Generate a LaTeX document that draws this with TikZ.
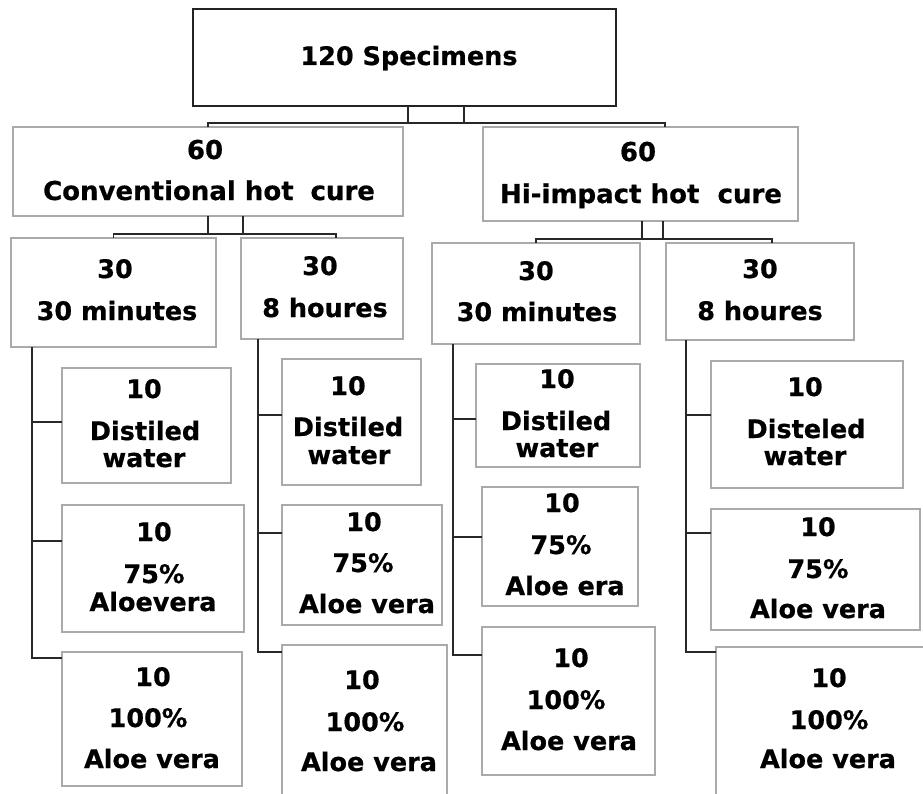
\documentclass[tikz,border=0pt]{standalone}
\usepackage{fontspec}
\setmainfont{DejaVu Sans}[BoldFeatures={FakeBold=0.6}]
\begin{document}
\begin{tikzpicture}[x=1bp,y=-1bp,
  box/.style={draw={rgb,255:red,170;green,170;blue,170}, line width=1.7bp, rectangle, inner sep=0pt, outer sep=0pt, fill=white},
  topbox/.style={draw={rgb,255:red,35;green,35;blue,35}, line width=2.8bp, rectangle, inner sep=0pt, outer sep=0pt, fill=white},
  conn/.style={draw={rgb,255:red,40;green,40;blue,40}, line width=1.7bp},
  txt/.style={anchor=base, inner sep=0pt, font=\fontsize{25.5bp}{30bp}\selectfont\bfseries},
  bigtxt/.style={txt, font=\fontsize{26bp}{30bp}\selectfont\bfseries}]
\newcommand\bx[6]{\node[#2, minimum width={(#5-#3)*1bp}, minimum height={(#6-#4)*1bp}] (#1) at ({(#3+#5)/2},{(#4+#6)/2}) {};}
\newcommand\tl[4]{\node[txt] (#1) at (#2,#3) {#4};}
\newcommand\tb[4]{\node[bigtxt] (#1) at (#2,#3) {#4};}
\useasboundingbox (0,0) rectangle (923,794);
\clip (0,0) rectangle (923,794);
\fill[white] (0,0) rectangle (923,794);
% boxes
\bx{top}{topbox}{193}{9}{616}{106}
\bx{LL}{box}{13}{127}{403}{216}
\bx{LR}{box}{483}{127}{798}{221}
\bx{A}{box}{11}{238}{216}{347}
\bx{B}{box}{241}{238}{403}{339}
\bx{C}{box}{432}{243}{640}{344}
\bx{D}{box}{666}{243}{854}{340}
\bx{A1}{box}{62}{368}{231}{483}
\bx{B1}{box}{282}{359}{421}{485}
\bx{C1}{box}{476}{364}{640}{467}
\bx{D1}{box}{711}{361}{903}{488}
\bx{A2}{box}{62}{505}{244}{632}
\bx{B2}{box}{282}{505}{442}{625}
\bx{C2}{box}{482}{487}{638}{606}
\bx{D2}{box}{711}{509}{920}{630}
\bx{A3}{box}{62}{652}{242}{786}
\bx{B3}{box}{282}{645}{447}{805}
\bx{C3}{box}{482}{627}{655}{775}
\bx{D3}{box}{716}{647}{935}{805}
% connectors top -> level 1
\draw[conn] (408,0 |- top.south) -- (408,123) -- (464,123) -- (464,0 |- top.south);
\draw[conn] (LL.north) -- (208,123) -- (665,123) -- (665,0 |- LR.north);
% level 1 -> level 2
\draw[conn] (LL.south) -- (208,234) -- (243,234) -- (243,0 |- LL.south);
\draw[conn] (A.north) -- (113.5,234) -- (336,234) -- (336,0 |- B.north);
\draw[conn] (642,0 |- LR.south) -- (642,239) -- (663,239) -- (663,0 |- LR.south);
\draw[conn] (C.north) -- (536,239) -- (772,239) -- (772,0 |- D.north);
% trunks
\draw[conn] (32,0 |- A.south) |- (A3.west |- 0,658);
\draw[conn] (32,422) -- (A1.west |- 0,422);
\draw[conn] (32,541) -- (A2.west |- 0,541);
\draw[conn] (258,0 |- B.south) |- (B3.west |- 0,652);
\draw[conn] (258,415) -- (B1.west |- 0,415);
\draw[conn] (258,533) -- (B2.west |- 0,533);
\draw[conn] (453,0 |- C.south) |- (C3.west |- 0,655);
\draw[conn] (453,419) -- (C1.west |- 0,419);
\draw[conn] (453,537) -- (C2.west |- 0,537);
\draw[conn] (686,0 |- D.south) |- (D3.west |- 0,652);
\draw[conn] (686,415) -- (D1.west |- 0,415);
\draw[conn] (686,533) -- (D2.west |- 0,533);
% texts
\tl{t0}{409}{65}{120 Specimens}
\tb{tLa}{205}{159}{60}
\tb{tLb}{209}{200}{Conventional hot\hspace{0.3em} cure}
\tb{tRa}{638}{161}{60}
\tb{tRb}{641}{203}{Hi-impact hot\hspace{0.35em} cure}
\tl{tAa}{115}{278}{30}
\tl{tAb}{117}{320}{30 minutes}
\tl{tBa}{320}{275}{30}
\tl{tBb}{325}{317}{8 houres}
\tl{tCa}{536}{280}{30}
\tl{tCb}{537}{321}{30 minutes}
\tl{tDa}{760}{278}{30}
\tl{tDb}{760}{320}{8 houres}
\tl{tA1a}{144}{398}{10}
\tl{tA1b}{145}{440}{Distiled}
\tl{tA1c}{144}{467}{water}
\tl{tB1a}{348}{395}{10}
\tl{tB1b}{348}{436}{Distiled}
\tl{tB1c}{349}{464}{water}
\tl{tC1a}{557}{388}{10}
\tl{tC1b}{556}{430}{Distiled}
\tl{tC1c}{557}{457}{water}
\tl{tD1a}{805}{396}{10}
\tl{tD1b}{806}{438}{Disteled}
\tl{tD1c}{805}{465}{water}
\tl{tA2a}{154}{541}{10}
\tl{tA2b}{154}{583}{75\%}
\tl{tA2c}{153}{611}{Aloevera}
\tl{tB2a}{364}{531}{10}
\tl{tB2b}{363}{572}{75\%}
\tl{tB2c}{367}{613}{Aloe vera}
\tl{tC2a}{562}{512}{10}
\tl{tC2b}{561}{554}{75\%}
\tl{tC2c}{565}{595}{Aloe era}
\tl{tD2a}{818}{536}{10}
\tl{tD2b}{818}{578}{75\%}
\tl{tD2c}{818}{618}{Aloe vera}
\tl{tA3a}{153}{686}{10}
\tl{tA3b}{148}{727}{100\%}
\tl{tA3c}{152}{768}{Aloe vera}
\tl{tB3a}{362}{689}{10}
\tl{tB3b}{365}{731}{100\%}
\tl{tB3c}{369}{771}{Aloe vera}
\tl{tC3a}{571}{667}{10}
\tl{tC3b}{566}{709}{100\%}
\tl{tC3c}{569}{750}{Aloe vera}
\tl{tD3a}{829}{687}{10}
\tl{tD3b}{829}{729}{100\%}
\tl{tD3c}{828}{768}{Aloe vera}
\end{tikzpicture}
\end{document}
